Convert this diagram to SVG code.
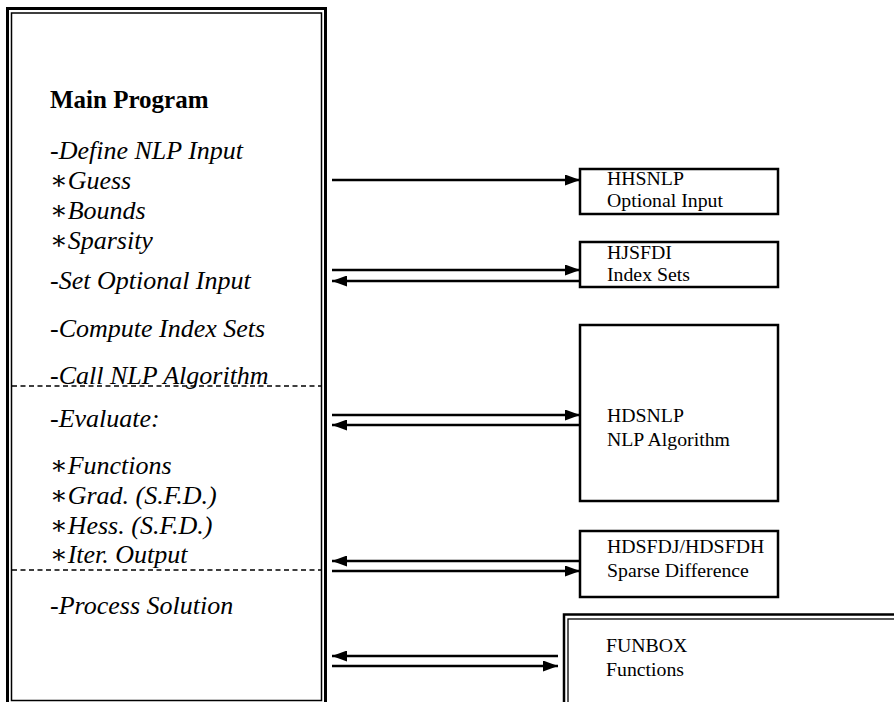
<svg xmlns="http://www.w3.org/2000/svg" width="894" height="702" viewBox="0 0 894 702">
  <style>
    .frame { fill: none; stroke: #000; }
    .box { fill: #fff; stroke: #000; stroke-width: 2.5; }
    .link { stroke: #000; stroke-width: 2.4; fill: none; }
    .sep { stroke: #000; stroke-width: 1.3; stroke-dasharray: 5 3.5; }
    text { font-family: 'Liberation Serif', 'DejaVu Serif', serif; fill: #000; }
    .it { font-style: italic; font-size: 26px; }
    .hd { font-weight: bold; font-size: 25px; }
    .lbl { font-size: 19.8px; }
  </style>
  <defs>
    <marker id="ah" viewBox="0 0 15 11" refX="15" refY="5.5" markerWidth="15" markerHeight="11" markerUnits="userSpaceOnUse" orient="auto">
      <path d="M0,0 L15,5.5 L0,11 Z" fill="#000"/>
    </marker>
  </defs>

  <!-- main program frame with its two dashed section rules -->
  <g id="main-program">
    <rect class="frame" x="7.5" y="8.5" width="318" height="710" stroke-width="3"/>
    <rect class="frame" x="11.5" y="13" width="310" height="687.5" stroke-width="1.5"/>
    <line class="sep" x1="12" y1="386" x2="321" y2="386"/>
    <line class="sep" x1="12" y1="570" x2="321" y2="570"/>
    <text class="hd" x="50" y="108">Main Program</text>
    <text class="it" x="50" y="159">-Define NLP Input</text>
    <text class="it" x="50" y="189">∗Guess</text>
    <text class="it" x="50" y="219">∗Bounds</text>
    <text class="it" x="50" y="249">∗Sparsity</text>
    <text class="it" x="50" y="289">-Set Optional Input</text>
    <text class="it" x="50" y="337">-Compute Index Sets</text>
    <text class="it" x="50" y="384">-Call NLP Algorithm</text>
    <text class="it" x="50" y="427">-Evaluate:</text>
    <text class="it" x="50" y="474">∗Functions</text>
    <text class="it" x="50" y="504">∗Grad. (S.F.D.)</text>
    <text class="it" x="50" y="534">∗Hess. (S.F.D.)</text>
    <text class="it" x="50" y="563">∗Iter. Output</text>
    <text class="it" x="50" y="614">-Process Solution</text>
  </g>

  <g id="hhsnlp">
    <rect class="box" x="580" y="169" width="198" height="45"/>
    <text class="lbl" x="607" y="185">HHSNLP</text>
    <text class="lbl" x="607" y="207">Optional Input</text>
  </g>

  <g id="hjsfdi">
    <rect class="box" x="580" y="242" width="198" height="45"/>
    <text class="lbl" x="607" y="259">HJSFDI</text>
    <text class="lbl" x="607" y="281">Index Sets</text>
  </g>

  <g id="hdsnlp">
    <rect class="box" x="580" y="325" width="198" height="176"/>
    <text class="lbl" x="607" y="422">HDSNLP</text>
    <text class="lbl" x="607" y="446">NLP Algorithm</text>
  </g>

  <g id="hdsfdj">
    <rect class="box" x="580" y="531" width="198" height="66"/>
    <text class="lbl" x="607" y="553">HDSFDJ/HDSFDH</text>
    <text class="lbl" x="607" y="577">Sparse Difference</text>
  </g>

  <g id="funbox">
    <rect class="frame" x="564" y="614.5" width="340" height="100" stroke-width="2.5"/>
    <rect class="frame" x="568" y="619" width="340" height="100" stroke-width="1.3"/>
    <text class="lbl" x="606" y="652">FUNBOX</text>
    <text class="lbl" x="606" y="676">Functions</text>
  </g>

  <g id="connectors">
    <line class="link" x1="332" y1="180" x2="580" y2="180" marker-end="url(#ah)"/>
    <line class="link" x1="332" y1="270" x2="580" y2="270" marker-end="url(#ah)"/>
    <line class="link" x1="580" y1="281" x2="332" y2="281" marker-end="url(#ah)"/>
    <line class="link" x1="332" y1="415" x2="580" y2="415" marker-end="url(#ah)"/>
    <line class="link" x1="580" y1="425" x2="332" y2="425" marker-end="url(#ah)"/>
    <line class="link" x1="580" y1="561" x2="332" y2="561" marker-end="url(#ah)"/>
    <line class="link" x1="332" y1="571" x2="580" y2="571" marker-end="url(#ah)"/>
    <line class="link" x1="558" y1="656" x2="332" y2="656" marker-end="url(#ah)"/>
    <line class="link" x1="332" y1="666" x2="558" y2="666" marker-end="url(#ah)"/>
  </g>
</svg>
